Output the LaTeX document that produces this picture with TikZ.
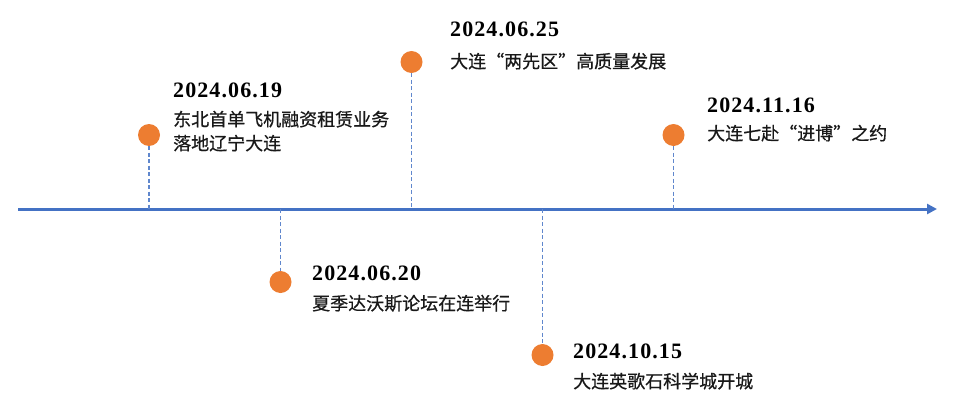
\documentclass[tikz,border=0pt]{standalone}
\usepackage{fontspec}
\setmainfont{Liberation Serif}
\newfontfamily\datefont[LetterSpace=5]{Liberation Serif}
\newfontfamily\cjk[FakeBold=0.6]{Noto Sans CJK SC}
\usetikzlibrary{arrows.meta}
\definecolor{axisblue}{HTML}{4472C4}
\definecolor{dotorange}{HTML}{ED7D31}
\tikzset{
  dot/.style={circle, fill=dotorange, draw=none, minimum size=22pt, inner sep=0pt},
  guide/.style={draw=axisblue!85, line width=1.4pt, dash pattern=on 4pt off 2.5pt},
  axisline/.style={draw=axisblue, line width=3pt, -{Triangle[length=10pt,width=10pt]}},
  datelbl/.style={anchor=base west, inner sep=0pt, font=\datefont\bfseries\fontsize{22}{26}\selectfont},
  desclbl/.style={anchor=base west, inner sep=0pt, text=black!90, font=\cjk\fontsize{18}{24}\selectfont},
}
\begin{document}
\begin{tikzpicture}[x=1pt,y=-1pt]
\useasboundingbox (0,0) rectangle (960,412);
% axis
\coordinate (s) at (18,209);
\coordinate (e) at (937,209);
\draw[axisline] (s) -- (e);
% axis points
\coordinate (a1) at (149,209);
\coordinate (a2) at (280.5,209);
\coordinate (a3) at (411.5,209);
\coordinate (a4) at (542.5,209);
\coordinate (a5) at (673.5,209);
% dots
\node[dot] (d1) at (149,135) {};
\node[dot] (d2) at (280.5,282) {};
\node[dot] (d3) at (411.5,62) {};
\node[dot] (d4) at (542.5,355) {};
\node[dot] (d5) at (673.5,135) {};
% guides
\draw[guide] (d1.south) -- (a1);
\draw[guide] (a2) -- (d2.north);
\draw[guide] (d3.south) -- (a3);
\draw[guide] (a4) -- (d4.north);
\draw[guide] (d5.south) -- (a5);
% labels
\node[datelbl] (t1) at (173,97) {2024.06.19};
\node[desclbl] (c1a) at (173,126) {东北首单飞机融资租赁业务};
\node[desclbl] (c1b) at (173,150) {落地辽宁大连};
\node[datelbl] (t3) at (450,37) {2024.06.25};
\node[desclbl] (c3) at (450,68) {大连“两先区”高质量发展};
\node[datelbl] (t2) at (312,280) {2024.06.20};
\node[desclbl] (c2) at (312,310) {夏季达沃斯论坛在连举行};
\node[datelbl] (t4) at (573,358) {2024.10.15};
\node[desclbl] (c4) at (573,388) {大连英歌石科学城开城};
\node[datelbl] (t5) at (707,112) {2024.11.16};
\node[desclbl] (c5) at (707,140) {大连七赴“进博”之约};
\end{tikzpicture}
\end{document}
